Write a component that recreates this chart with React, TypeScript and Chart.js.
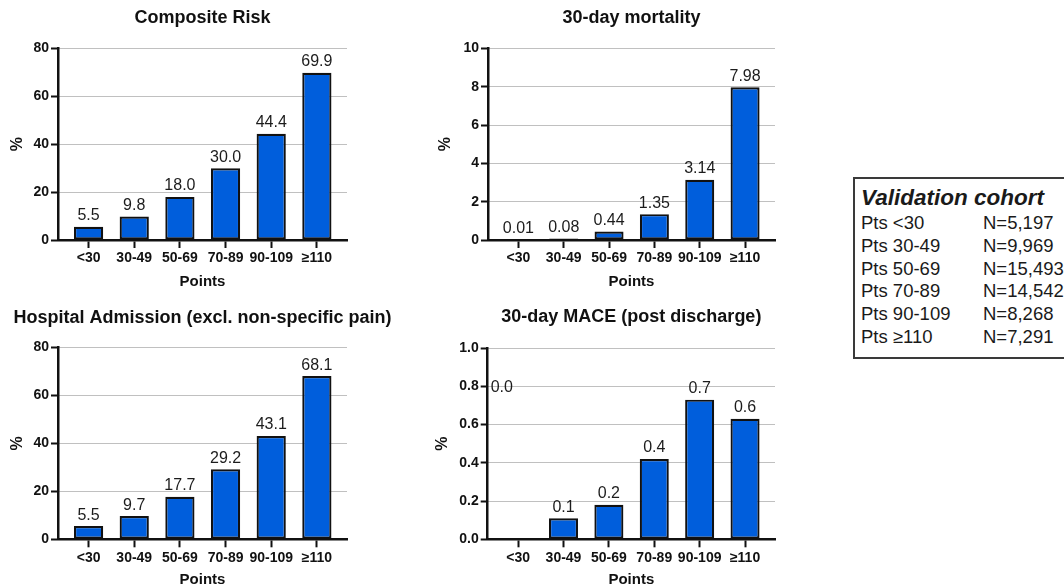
import React, { useEffect, useRef } from "react";
import { Chart, registerables } from "chart.js";

Chart.register(...registerables);

const FONT = '"Liberation Sans", Arial, Helvetica, sans-serif';
const BAR_BLUE = "#005EDC";
const INK = "#111111";

// ---- data ----
const pointGroups = ["<30", "30-49", "50-69", "70-89", "90-109", "≥110"];
const compositeRisk = [5.5, 9.8, 18.0, 30.0, 44.4, 69.9];
const mortality30Day = [0.01, 0.08, 0.44, 1.35, 3.14, 7.98];
const hospitalAdmission = [5.5, 9.7, 17.7, 29.2, 43.1, 68.1];
const mace30Day = [0.0, 0.11, 0.18, 0.42, 0.73, 0.63];

const cohortGroups = ["Pts <30", "Pts 30-49", "Pts 50-69", "Pts 70-89", "Pts 90-109", "Pts ≥110"];
const cohortSizes = ["N=5,197", "N=9,969", "N=15,493", "N=14,542", "N=8,268", "N=7,291"];

type Panel = {
  title: string;
  values: number[];
  decimals: number;
  yMax: number;
  yStep: number;
  yDecimals: number;
  // layout
  left: number;
  top: number;
  width: number;
  height: number;
  area: { l: number; r: number; t: number; b: number };
  titleY: number;
  pctPad: number;
  misplaced?: { index: number; dx: number; yValue: number };
};

const panels: Panel[] = [
  {
    title: "Composite Risk",
    values: compositeRisk,
    decimals: 1,
    yMax: 80,
    yStep: 20,
    yDecimals: 0,
    left: 0,
    top: 0,
    width: 420,
    height: 290,
    area: { l: 58, r: 347, t: 48.5, b: 240 },
    titleY: 18.5,
    pctPad: 8.3,
  },
  {
    title: "30-day mortality",
    values: mortality30Day,
    decimals: 2,
    yMax: 10,
    yStep: 2,
    yDecimals: 0,
    left: 420,
    top: 0,
    width: 420,
    height: 290,
    area: { l: 68, r: 355, t: 48.5, b: 240 },
    titleY: 18.5,
    pctPad: 16,
  },
  {
    title: "Hospital Admission (excl. non-specific pain)",
    values: hospitalAdmission,
    decimals: 1,
    yMax: 80,
    yStep: 20,
    yDecimals: 0,
    left: 0,
    top: 290,
    width: 420,
    height: 298,
    area: { l: 58, r: 347, t: 57.5, b: 249.3 },
    titleY: 28,
    pctPad: 8,
  },
  {
    title: "30-day MACE (post discharge)",
    values: mace30Day,
    decimals: 1,
    yMax: 1,
    yStep: 0.2,
    yDecimals: 1,
    left: 420,
    top: 290,
    width: 420,
    height: 298,
    area: { l: 67.7, r: 355, t: 58, b: 249.3 },
    titleY: 27,
    pctPad: 13,
    misplaced: { index: 0, dx: -0.36, yValue: 0.8 },
  },
];

function BarPanel({ p }: { p: Panel }) {
  const ref = useRef<HTMLCanvasElement | null>(null);

  useEffect(() => {
    const canvas = ref.current;
    if (!canvas) return;

    const decor = {
      id: "decor",
      afterDatasetsDraw(chart: any) {
        const ctx = chart.ctx as CanvasRenderingContext2D;
        const { left, right } = chart.chartArea;
        ctx.save();
        ctx.textAlign = "center";
        ctx.textBaseline = "middle";
        ctx.fillStyle = INK;
        ctx.font = `bold 18px ${FONT}`;
        ctx.fillText(p.title, (left + right) / 2, p.titleY);

        ctx.font = `16px ${FONT}`;
        ctx.fillStyle = "#1c1c1c";
        ctx.textBaseline = "alphabetic";
        const meta = chart.getDatasetMeta(0);
        meta.data.forEach((bar: any, i: number) => {
          let x = bar.x;
          let y = bar.y - 6.5;
          if (p.misplaced && p.misplaced.index === i) {
            x = chart.scales.x.getPixelForValue(i + p.misplaced.dx);
            y = chart.scales.y.getPixelForValue(p.misplaced.yValue) + 5.5;
          }
          ctx.fillText(p.values[i].toFixed(p.decimals), x, y);
        });
        ctx.restore();
      },
    };

    const chart = new Chart(canvas, {
      type: "bar",
      data: {
        datasets: [
          {
            data: p.values.map((v, i) => ({ x: i, y: v })),
            backgroundColor: BAR_BLUE,
            borderColor: INK,
            borderWidth: 2.2,
            borderSkipped: false,
            barPercentage: 0.64,
            categoryPercentage: 1,
          } as any,
        ],
      },
      options: {
        responsive: false,
        animation: false,
        devicePixelRatio: 1,
        layout: {
          padding: { left: 0, top: p.area.t, right: p.width - p.area.r, bottom: 0 },
        },
        plugins: {
          legend: { display: false },
          tooltip: { enabled: false },
          title: { display: false },
        },
        scales: {
          x: {
            type: "linear",
            min: -0.67,
            max: 5.66,
            offset: false,
            bounds: "data",
            afterBuildTicks: (s: any) => {
              s.ticks = pointGroups.map((_, i) => ({ value: i }));
            },
            afterFit: (s: any) => {
              s.height = p.height - p.area.b;
            },
            grid: {
              display: true,
              drawOnChartArea: false,
              drawTicks: true,
              tickLength: 8,
              tickColor: INK,
              tickWidth: 2,
              offset: false,
            },
            border: { display: true, color: INK, width: 2.5 },
            ticks: {
              autoSkip: false,
              maxRotation: 0,
              minRotation: 0,
              padding: 2,
              color: INK,
              font: { family: FONT, size: 14, weight: "bold" },
              callback: (v: any) => pointGroups[Number(v)] ?? "",
            },
            title: {
              display: true,
              text: "Points",
              color: INK,
              padding: 0,
              font: { family: FONT, size: 15, weight: "bold", lineHeight: 1.1 },
            },
          },
          y: {
            min: 0,
            max: p.yMax,
            afterFit: (s: any) => {
              s.width = p.area.l;
            },
            grid: {
              color: "#808080",
              lineWidth: 1,
              drawTicks: true,
              tickLength: 7,
              tickColor: INK,
              tickWidth: 2,
            },
            border: { display: true, color: INK, width: 2.5, dash: [1, 1] },
            ticks: {
              stepSize: p.yStep,
              padding: 2,
              color: INK,
              font: { family: FONT, size: 14, weight: "bold" },
              callback: (v: any) => Number(v).toFixed(p.yDecimals),
            },
            title: {
              display: true,
              text: "%",
              color: INK,
              padding: { top: p.pctPad, bottom: 0 },
              font: { family: FONT, size: 16, weight: "bold", lineHeight: 1.2 },
            },
          },
        },
      } as any,
      plugins: [decor as any],
    });

    return () => chart.destroy();
  }, [p]);

  return (
    <canvas
      ref={ref}
      width={p.width}
      height={p.height}
      style={{
        position: "absolute",
        left: p.left,
        top: p.top,
        width: p.width,
        height: p.height,
      }}
    />
  );
}

function CohortBox() {
  const rowTop0 = 223.3;
  const rowStep = 22.7;
  return (
    <>
      <div
        style={{
          position: "absolute",
          left: 853,
          top: 177,
          width: 260,
          height: 182,
          border: "2px solid #3a3a3a",
          boxSizing: "border-box",
          background: "#fff",
        }}
      />
      <div
        style={{
          position: "absolute",
          left: 861,
          top: 198 - 13,
          height: 26,
          lineHeight: "26px",
          fontFamily: FONT,
          fontSize: 22.5,
          fontWeight: "bold",
          fontStyle: "italic",
          color: "#1a1a1a",
          whiteSpace: "nowrap",
        }}
      >
        Validation cohort
      </div>
      {cohortGroups.map((g, i) => (
        <React.Fragment key={g}>
          <div
            style={{
              position: "absolute",
              left: 861,
              top: rowTop0 + i * rowStep - 11,
              height: 22,
              lineHeight: "22px",
              fontFamily: FONT,
              fontSize: 18.5,
              color: "#1a1a1a",
              whiteSpace: "nowrap",
            }}
          >
            {g}
          </div>
          <div
            style={{
              position: "absolute",
              left: 983,
              top: rowTop0 + i * rowStep - 11,
              height: 22,
              lineHeight: "22px",
              fontFamily: FONT,
              fontSize: 18.5,
              color: "#1a1a1a",
              whiteSpace: "nowrap",
            }}
          >
            {cohortSizes[i]}
          </div>
        </React.Fragment>
      ))}
    </>
  );
}

export default function App() {
  return (
    <div
      style={{
        position: "fixed",
        left: 0,
        top: 0,
        width: 1064,
        height: 588,
        overflow: "hidden",
        background: "#ffffff",
      }}
    >
      {panels.map((p) => (
        <BarPanel key={p.title} p={p} />
      ))}
      <CohortBox />
    </div>
  );
}
